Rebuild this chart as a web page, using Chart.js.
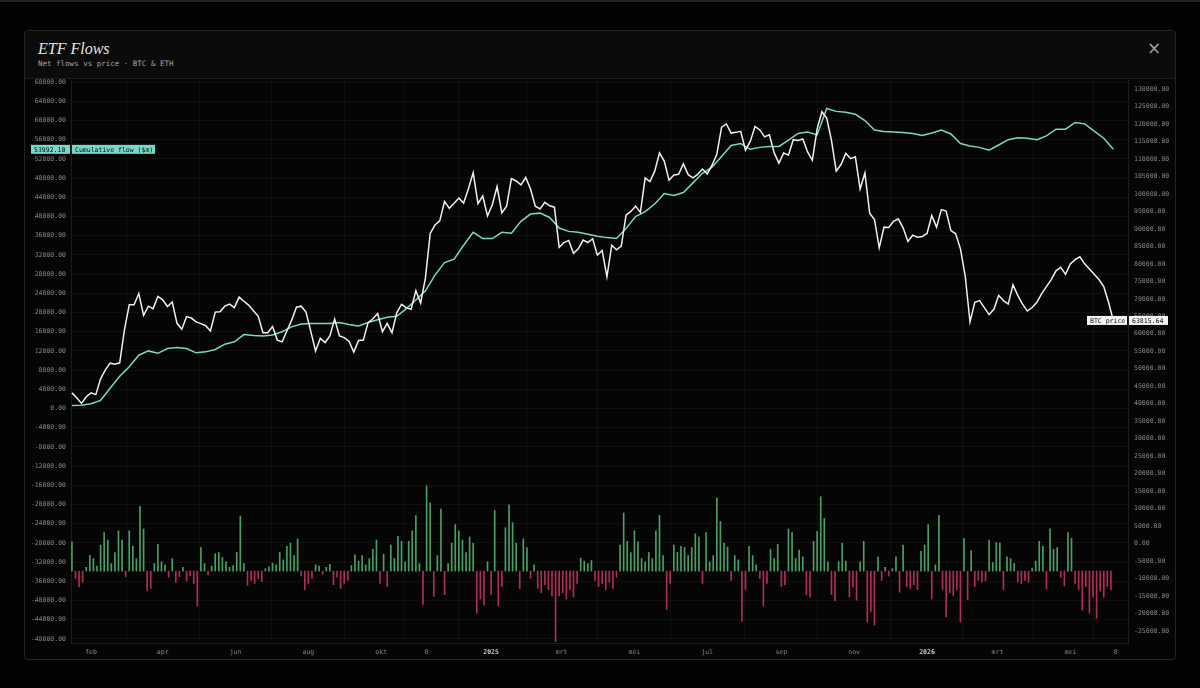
<!DOCTYPE html>
<html>
<head>
<meta charset="utf-8">
<script src="https://cdn.jsdelivr.net/npm/chart.js@4.4.1/dist/chart.umd.min.js"></script>
<style>
  html, body { margin: 0; padding: 0; background: #020202; width: 1200px; height: 688px; overflow: hidden; }
  .topline { position: absolute; left: 0; top: 0; width: 1200px; height: 2px; background: #242424; }
  .panel { position: absolute; left: 24px; top: 30px; width: 1150px; height: 628px; border: 1px solid #232323; border-radius: 4px; background: #050505; }
  .head { position: absolute; left: 0; top: 0; width: 1150px; height: 47px; border-bottom: 1px solid #1e1e1e; background: #0b0b0b; border-radius: 4px 4px 0 0; }
  .title { position: absolute; left: 13px; top: 10px; font: italic 16px/1 "Liberation Serif", serif; color: #e4e4e4; }
  .sub { position: absolute; left: 13px; top: 29px; font: 7.5px/1 "DejaVu Sans Mono", monospace; color: #a4a4a4; }
  .close { position: absolute; left: 1122px; top: 9px; font: 17px/1 "DejaVu Sans", sans-serif; color: #a0a0a0; }
  .wrap { position: absolute; left: 0; top: 48px; width: 1150px; height: 580px; }
</style>
</head>
<body>
<div class="topline"></div>
<div class="panel">
  <div class="head">
    <div class="title">ETF Flows</div>
    <div class="sub">Net flows vs price · BTC &amp; ETH</div>
    <div class="close">×</div>
  </div>
  <div class="wrap"><canvas id="flows" width="1150" height="580"></canvas></div>
</div>
<script>
// x positions are days counted from 2024-01-01
const tickDays = [31, 91, 152, 213, 274, 312, 366, 425, 486, 547, 609, 670, 731, 790, 851, 889];
const tickLabels = ["feb", "apr", "jun", "aug", "okt", "8", "2025", "mrt", "mei", "jul", "sep", "nov", "2026", "mrt", "mei", "8"];
const yearTicks = [366, 731];
const FLOW_TICK_STEP = 4000;
const PRICE_TICK_STEP = 5000;

// BTC price, one value every 4 days from day 15
const PRICE_START = 15, PRICE_STEP = 4;
const btcPrice = [
  43100, 41700, 40100, 42000, 43100, 42600, 47100, 49700, 51600, 51300,
  51700, 61200, 68300, 68300, 71500, 65300, 67900, 67200, 70700, 69700,
  67800, 69100, 63000, 61300, 64900, 64500, 63400, 62900, 62300, 60800,
  66200, 66300, 67900, 68500, 67500, 70500, 69300, 68200, 66600, 65000,
  60300, 60300, 62100, 58200, 57700, 60800, 63900, 67600, 67900, 66200,
  60700, 55100, 58700, 57500, 59400, 64200, 59400, 58900, 57900, 54800,
  58100, 58200, 63200, 64300, 65800, 60600, 63000, 60300, 66000, 68400,
  67400, 67000, 72300, 68800, 75900, 88700, 91100, 92300, 97800, 95900,
  97300, 98800, 97400, 101500, 106100, 97200, 99400, 93700, 96900, 102100,
  94600, 96500, 104400, 103700, 102600, 104700, 101400, 96500, 95700, 97600,
  96600, 96200, 84700, 86100, 86700, 83000, 84300, 86800, 86100, 87200,
  82500, 83800, 76300, 85300, 84000, 85100, 93900, 95000, 96500, 94700,
  104600, 103500, 106500, 111700, 109400, 103900, 105400, 105600, 108600, 105500,
  104600, 105600, 107100, 105700, 108200, 111300, 119100, 120000, 117400, 117600,
  117900, 112500, 115000, 119300, 118300, 116300, 116900, 111800, 108800, 111700,
  111100, 115500, 115300, 115700, 112000, 109600, 118600, 123500, 121700, 115300,
  106500, 108400, 111600, 110100, 110600, 101400, 106000, 94500, 92700, 84600,
  90500, 90400, 92200, 92800, 90300, 86400, 88200, 87600, 87800, 88700,
  93800, 90500, 95500, 95100, 89500, 88600, 84300, 76500, 63400, 69000,
  69500, 67500, 65500, 67000, 71000, 69500, 68500, 74000, 71000, 68500,
  66500, 67500, 69000, 71500, 73500, 75500, 78000, 79000, 77000, 80000,
  81200, 82000, 80000, 78500, 77000, 75500, 73500, 69000, 63815.64
];

// cumulative net flow ($m), one value every 8 days from day 15
const CUM_START = 15, CUM_STEP = 8;
const cumFlow = [
  600, 700, 1000, 1700, 4200, 6700, 8700, 11100, 12000, 11500,
  12500, 12700, 12500, 11600, 11800, 12300, 13400, 13900, 15400, 15200,
  15100, 15300, 16000, 17000, 17600, 17700, 17700, 17700, 17900, 17500,
  17200, 17900, 18500, 19000, 19200, 20800, 22600, 24500, 27800, 30400,
  31100, 34000, 36700, 35400, 35400, 36700, 36500, 39000, 40500, 40700,
  39800, 37600, 36900, 36700, 36300, 35900, 35600, 35400, 37500, 40000,
  41000, 42600, 44800, 44400, 45000, 47000, 49000, 50300, 52500, 54800,
  55200, 54000, 54400, 54600, 54600, 55900, 57300, 57600, 57000, 62500,
  61900, 61700, 61300, 60000, 58000, 57700, 57600, 57500, 57300, 56900,
  57400, 58000, 57200, 55200, 54700, 54400, 53800, 54900, 56000, 56400,
  56300, 56000, 56800, 58200, 58200, 59600, 59300, 57800, 56300, 53992.10
];

// net daily flow ($m), one bar every 3 days from day 15
const BAR_START = 15, BAR_STEP = 3;
const dailyFlow = [
  470, -120, -250, -180, 60, 250, 200, 80, 420, 620,
  500, 120, 300, 650, 500, -90, 650, 400, 200, 1045,
  680, -320, -280, 120, 430, 150, 100, -100, 200, -180,
  -90, 60, -160, -80, -200, -563, 380, 120, -60, 80,
  280, 300, 220, 150, 60, 90, 300, 887, 120, -230,
  -150, -200, -120, -170, 40, 70, 130, 100, 300, 180,
  400, 450, 250, 520, -80, -300, -200, -120, 100, 80,
  -50, 60, 110, -220, -100, -280, -200, -150, 90, 260,
  160, 250, 100, 200, 350, 500, -200, 270, -250, 420,
  200, 560, 480, 150, 480, 650, 893, 120, -541, 1376,
  1100, -410, 250, 1000, -380, 120, 450, 750, 650, 500,
  300, 550, 450, -680, -450, -550, 150, -380, 980, -560,
  -250, 700, 1070, 780, 450, -280, 520, 380, -120, 100,
  -280, -350, -220, -300, -400, -1140, -400, -350, -450, -300,
  -420, -200, 210, 160, 120, 170, -150, -250, -200, -300,
  -180, -280, -100, 420, 936, 480, 300, 650, 470, 200,
  150, 300, 200, 650, 900, 250, -620, -200, 420, 300,
  400, 380, 250, 380, 600, 550, -200, 620, 150, 250,
  1180, 800, 450, 390, -150, 250, 180, -812, -300, 400,
  250, 100, -120, -560, -200, 350, 200, 430, -250, -220,
  680, 620, 200, 340, 230, -380, -420, 480, 640, 1200,
  850, 150, -380, -480, 150, 450, 160, -420, -260, -470,
  150, 480, -820, -650, -870, 230, -150, 60, -80, 40,
  230, -340, 420, -250, -280, -220, -300, 320, 420, 750,
  -450, 100, 900, -300, -740, -350, -400, -300, -820, 530,
  -460, 330, -250, -150, -180, -160, 500, 140, 460, 450,
  -300, 230, 200, 120, -180, -200, -150, -180, 50, 160,
  480, 400, -290, 680, 350, 380, -100, -240, 620, 530,
  -200, -300, -630, -250, -680, -420, -760, -320, -420, -250,
  -300
];

const MONO = '"DejaVu Sans Mono", monospace';
const GRID = 'rgba(255,255,255,0.045)';
const AXIS_LINE = '#1d1d1d';
const TICK_COLOR = '#858585';
const TEAL = '#78d9c6';

// ticks on round multiples of the step, inside the axis range
function roundTicks(step) {
  return s => {
    const ticks = [];
    for (let v = Math.ceil(s.min / step) * step; v <= s.max; v += step) ticks.push({ value: v });
    s.ticks = ticks;
  };
}

// fixed axis width, and no extra room for labels at the ends
function fixWidth(w) {
  return s => { s.width = w; s.paddingTop = 0; s.paddingBottom = 0; };
}

function drawTag(ctx, x, y, w, text, bg, fg) {
  ctx.fillStyle = bg;
  ctx.fillRect(x, y - 4.5, w, 9);
  ctx.fillStyle = fg;
  ctx.fillText(text, x + 3, y + 0.5);
}

const lastValueTags = {
  id: 'lastValueTags',
  afterDatasetsDraw(chart) {
    const { ctx, chartArea, scales } = chart;
    ctx.save();
    ctx.font = '6.5px ' + MONO;
    ctx.textBaseline = 'middle';
    ctx.textAlign = 'left';
    const yc = scales.yFlow.getPixelForValue(cumFlow[cumFlow.length - 1]);
    drawTag(ctx, chartArea.left - 40, yc, 39, cumFlow[cumFlow.length - 1].toFixed(2), TEAL, '#0a0a0a');
    drawTag(ctx, chartArea.left + 1, yc, 83, 'Cumulative flow ($m)', TEAL, '#0a0a0a');
    const yp = scales.yPrice.getPixelForValue(btcPrice[btcPrice.length - 1]);
    drawTag(ctx, chartArea.right - 41, yp, 40, 'BTC price', '#f2f2f2', '#111');
    drawTag(ctx, chartArea.right + 1, yp, 39, btcPrice[btcPrice.length - 1].toFixed(2), '#f2f2f2', '#111');
    ctx.restore();
  }
};

new Chart(document.getElementById('flows').getContext('2d'), {
  type: 'line',
  data: {
    datasets: [
      {
        label: 'BTC price',
        data: btcPrice.map((v, i) => ({ x: PRICE_START + i * PRICE_STEP, y: v })),
        yAxisID: 'yPrice',
        borderColor: '#f0f0f0',
        borderWidth: 1.5,
        pointRadius: 0,
        order: 1
      },
      {
        label: 'Cumulative flow ($m)',
        data: cumFlow.map((v, i) => ({ x: CUM_START + i * CUM_STEP, y: v })),
        yAxisID: 'yFlow',
        borderColor: TEAL,
        borderWidth: 1.5,
        pointRadius: 0,
        order: 2
      },
      {
        type: 'bar',
        label: 'Net flow',
        data: dailyFlow.map((v, i) => ({ x: BAR_START + i * BAR_STEP, y: v })),
        yAxisID: 'yBars',
        barThickness: 1,
        backgroundColor: c => (c.parsed && c.parsed.y < 0) ? 'rgba(185,48,88,0.95)' : 'rgba(78,168,104,0.95)',
        order: 3
      }
    ]
  },
  options: {
    responsive: false,
    animation: false,
    layout: { padding: { top: 1, left: 0, right: 0, bottom: 0 } },
    plugins: { legend: { display: false }, tooltip: { enabled: false } },
    scales: {
      x: {
        type: 'linear',
        min: 14.23,
        max: 899.3,
        offset: false,
        afterBuildTicks: s => { s.ticks = tickDays.map(v => ({ value: v })); },
        afterFit: s => { s.height = 16; s.paddingLeft = 0; s.paddingRight = 0; },
        ticks: {
          autoSkip: false,
          maxRotation: 0,
          padding: 5,
          callback: (v, i) => tickLabels[i],
          color: c => yearTicks.includes(c.tick && c.tick.value) ? '#c8c8c8' : TICK_COLOR,
          font: c => ({ family: MONO, size: 6.5, weight: yearTicks.includes(c.tick && c.tick.value) ? 'bold' : 'normal' })
        },
        grid: { color: GRID, drawTicks: false },
        border: { color: AXIS_LINE }
      },
      yFlow: {
        position: 'left',
        min: -48854,
        max: 68437,
        afterBuildTicks: roundTicks(FLOW_TICK_STEP),
        afterFit: fixWidth(46),
        ticks: {
          autoSkip: false,
          padding: 5,
          color: TICK_COLOR,
          font: { family: MONO, size: 6.5 },
          callback: v => Number(v).toFixed(2)
        },
        grid: { color: GRID, drawTicks: false },
        border: { color: AXIS_LINE }
      },
      yPrice: {
        position: 'right',
        min: -28424,
        max: 132574,
        afterBuildTicks: roundTicks(PRICE_TICK_STEP),
        afterFit: fixWidth(47),
        ticks: {
          autoSkip: false,
          padding: 6,
          color: TICK_COLOR,
          font: { family: MONO, size: 6.5 },
          callback: v => Number(v).toFixed(2)
        },
        grid: { display: false, drawTicks: false },
        border: { color: AXIS_LINE }
      },
      yBars: {
        display: false,
        min: -1160,
        max: 7920
      }
    }
  },
  plugins: [lastValueTags]
});
</script>
</body>
</html>
